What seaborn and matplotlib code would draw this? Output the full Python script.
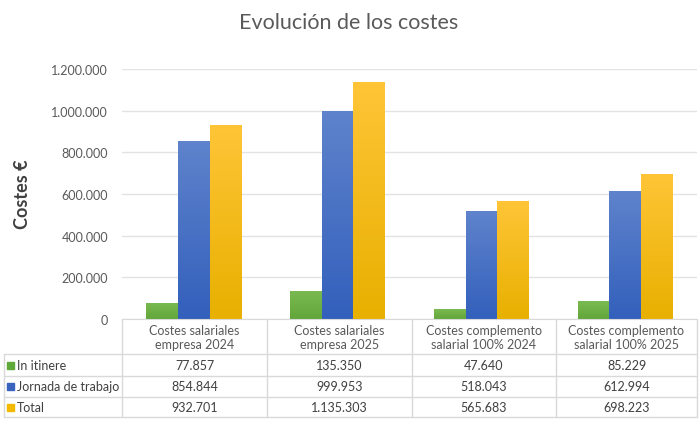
import numpy as np
import pandas as pd
import seaborn as sns
import matplotlib.pyplot as plt
from matplotlib.colors import LinearSegmentedColormap
from matplotlib.lines import Line2D
from matplotlib.patches import Rectangle

categories = ["Costes salariales\nempresa 2024", "Costes salariales\nempresa 2025",
              "Costes complemento\nsalarial 100% 2024", "Costes complemento\nsalarial 100% 2025"]
series = ["In itinere", "Jornada de trabajo", "Total"]
in_itinere = [77857, 135350, 47640, 85229]
jornada = [854844, 999953, 518043, 612994]
total = [932701, 1135303, 565683, 698223]
yticks = [0, 200000, 400000, 600000, 800000, 1000000, 1200000]

# gradient (top, bottom) and legend colour for each series
grad = {"In itinere": ("#7BBA52", "#62A63B"),
        "Jornada de trabajo": ("#5F83CC", "#3360BC"),
        "Total": ("#FFC537", "#E8B000")}
key_col = {"In itinere": "#5FA83A", "Jornada de trabajo": "#3A63C0", "Total": "#F2B900"}

def fmt(v):
    return f"{v:,}".replace(",", ".")

df = pd.DataFrame({
    "cat": categories * 3,
    "serie": [s for s in series for _ in categories],
    "valor": in_itinere + jornada + total,
})

sns.set_style("white")
plt.rcParams["font.family"] = ["Lato", "DejaVu Sans"]

W, H = 700, 427
fig = plt.figure(figsize=(7, 4.27), dpi=100)
ax = fig.add_axes([122 / W, 1 - 320 / H, 575 / W, 250 / H])

sns.barplot(data=df, x="cat", y="valor", hue="serie", hue_order=series,
            palette=[key_col[s] for s in series], width=0.66, ax=ax,
            legend=False, errorbar=None, saturation=1)

# replace flat fills with vertical gradients
for cont, s in zip(ax.containers, series):
    cmap = LinearSegmentedColormap.from_list(s, [grad[s][1], grad[s][0]])
    for bar in cont:
        x0, y0 = bar.get_x(), bar.get_y()
        w, h = bar.get_width(), bar.get_height()
        g = np.linspace(0, 1, 256).reshape(-1, 1)
        im = ax.imshow(g, cmap=cmap, origin="lower", aspect="auto",
                       extent=[x0, x0 + w, y0, y0 + h], zorder=2)
        im.set_clip_path(bar)
        bar.set_facecolor("none")
        bar.set_edgecolor("none")

ax.set_xlim(-0.5, 3.5)
ax.set_ylim(0, 1200000)
ax.set_yticks(yticks)
ax.set_yticklabels([fmt(v) for v in yticks], color="#595959", fontsize=9)
ax.tick_params(axis="y", length=0, pad=10)
ax.set_xticks([])
ax.set_xlabel("")
ax.set_ylabel("")
ax.grid(axis="y", color="#E3E3E3", linewidth=1)
ax.set_axisbelow(True)
for sp in ["top", "right", "left"]:
    ax.spines[sp].set_visible(False)
ax.spines["bottom"].set_color("#D9D9D9")

fig.text(349 / W, 1 - 23 / H, "Evolución de los costes", ha="center", va="center",
         fontsize=15.5, color="#5A5A5A")
fig.text(23 / W, 1 - 194 / H, "Costes €", rotation=90, ha="center", va="center",
         fontsize=13, fontweight="bold", color="#404040")

# data table under the chart
def fx(px):
    return px / W

def fy(py):
    return 1 - py / H

lc = "#D9D9D9"
cols = [122, 267, 412, 556, 697]
for y in [355, 377, 398, 418]:
    fig.add_artist(Line2D([fx(4), fx(697)], [fy(y), fy(y)], color=lc, lw=1))
for x in cols:
    fig.add_artist(Line2D([fx(x), fx(x)], [fy(320), fy(418)], color=lc, lw=1))
fig.add_artist(Line2D([fx(4), fx(4)], [fy(355), fy(418)], color=lc, lw=1))

for i, c in enumerate(categories):
    xc = (cols[i] + cols[i + 1]) / 2
    fig.text(fx(xc), fy(338), c, ha="center", va="center", fontsize=9,
             color="#595959", linespacing=1.15)

rows = [in_itinere, jornada, total]
row_y = [366, 387.5, 408]
for s, vals, y in zip(series, rows, row_y):
    fig.add_artist(Rectangle((fx(7), fy(y + 3.5)), 7 / W, 7 / H,
                             color=key_col[s], transform=fig.transFigure))
    fig.text(fx(17), fy(y), s, ha="left", va="center", fontsize=9, color="#404040")
    for i, v in enumerate(vals):
        xc = (cols[i] + cols[i + 1]) / 2
        fig.text(fx(xc), fy(y), fmt(v), ha="center", va="center", fontsize=9,
                 color="#404040")

fig.savefig("out.png", dpi=100)
